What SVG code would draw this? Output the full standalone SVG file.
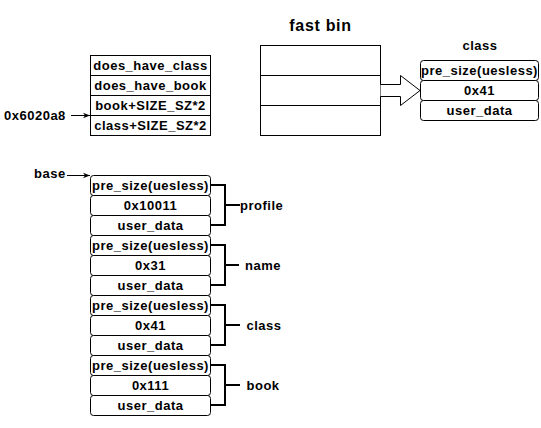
<svg xmlns="http://www.w3.org/2000/svg" width="541" height="428" viewBox="0 0 541 428">
<defs>
<style>
text{font-family:"Liberation Sans",Arial,sans-serif;font-weight:bold;font-size:13px;letter-spacing:0.5px;fill:#000}
.c{text-anchor:middle}
.box{fill:#fff;stroke:#000;stroke-width:1}
.row{fill:#fff;stroke:#000;stroke-width:1}
.ln{fill:none;stroke:#000;stroke-width:1}
.br{fill:none;stroke:#000;stroke-width:2}
.title{font-size:16px;letter-spacing:0.7px}
</style>
<marker id="ah" viewBox="0 0 10 10" refX="10" refY="5" markerWidth="7" markerHeight="7" orient="auto" markerUnits="userSpaceOnUse">
<path d="M0,1 L10,5 L0,9 L3,5 Z" fill="#000"/>
</marker>
</defs>
<rect width="541" height="428" fill="#fff"/>

<g id="pointer-table">
<rect class="box" x="90.5" y="55.5" width="120" height="80"/>
<line class="ln" x1="90.5" y1="75.5" x2="210.5" y2="75.5"/>
<line class="ln" x1="90.5" y1="95.5" x2="210.5" y2="95.5"/>
<line class="ln" x1="90.5" y1="115.5" x2="210.5" y2="115.5"/>
<text class="c" x="150.5" y="70">does_have_class</text>
<text class="c" x="150.5" y="90">does_have_book</text>
<text class="c" x="150.5" y="110">book+SIZE_SZ*2</text>
<text class="c" x="150.5" y="130">class+SIZE_SZ*2</text>
</g>

<g id="label-0x6020a8"><text x="4" y="120">0x6020a8</text></g>
<g id="label-base"><text x="34" y="178">base</text></g>

<g id="fastbin">
<text class="c title" x="320.5" y="30.5">fast bin</text>
<rect class="box" x="260.5" y="45.5" width="120" height="90"/>
<line class="ln" x1="260.5" y1="75.5" x2="380.5" y2="75.5"/>
<line class="ln" x1="260.5" y1="105.5" x2="380.5" y2="105.5"/>
</g>

<g id="class-chunk-top">
<text class="c" x="480" y="50">class</text>
<rect class="row" x="420.5" y="60.5" width="118" height="20" rx="3"/>
<rect class="row" x="420.5" y="80.5" width="118" height="20" rx="3"/>
<rect class="row" x="420.5" y="100.5" width="118" height="20" rx="3"/>
<text class="c" x="479.5" y="75">pre_size(uesless)</text>
<text class="c" x="479.5" y="95">0x41</text>
<text class="c" x="479.5" y="115">user_data</text>
</g>

<g id="profile-chunk">
<rect class="row" x="90.5" y="175.5" width="120" height="20" rx="3"/>
<rect class="row" x="90.5" y="195.5" width="120" height="20" rx="3"/>
<rect class="row" x="90.5" y="215.5" width="120" height="20" rx="3"/>
<text class="c" x="150.5" y="190">pre_size(uesless)</text>
<text class="c" x="150.5" y="210">0x10011</text>
<text class="c" x="150.5" y="230">user_data</text>
<text x="240" y="209.5">profile</text>
</g>

<g id="name-chunk">
<rect class="row" x="90.5" y="235.5" width="120" height="20" rx="3"/>
<rect class="row" x="90.5" y="255.5" width="120" height="20" rx="3"/>
<rect class="row" x="90.5" y="275.5" width="120" height="20" rx="3"/>
<text class="c" x="150.5" y="250">pre_size(uesless)</text>
<text class="c" x="150.5" y="270">0x31</text>
<text class="c" x="150.5" y="290">user_data</text>
<text x="245" y="269.5">name</text>
</g>

<g id="class-chunk">
<rect class="row" x="90.5" y="295.5" width="120" height="20" rx="3"/>
<rect class="row" x="90.5" y="315.5" width="120" height="20" rx="3"/>
<rect class="row" x="90.5" y="335.5" width="120" height="20" rx="3"/>
<text class="c" x="150.5" y="310">pre_size(uesless)</text>
<text class="c" x="150.5" y="330">0x41</text>
<text class="c" x="150.5" y="350">user_data</text>
<text x="246.5" y="329.5">class</text>
</g>

<g id="book-chunk">
<rect class="row" x="90.5" y="355.5" width="120" height="20" rx="3"/>
<rect class="row" x="90.5" y="375.5" width="120" height="20" rx="3"/>
<rect class="row" x="90.5" y="395.5" width="120" height="20" rx="3"/>
<text class="c" x="150.5" y="370">pre_size(uesless)</text>
<text class="c" x="150.5" y="390">0x111</text>
<text class="c" x="150.5" y="410">user_data</text>
<text x="246.5" y="389.5">book</text>
</g>

<g id="connectors">
<line class="ln" x1="71" y1="115.5" x2="90" y2="115.5" marker-end="url(#ah)"/>
<line class="ln" x1="67" y1="175.5" x2="90" y2="175.5" marker-end="url(#ah)"/>
<path d="M380.5,84.5 H400.5 V75.5 L420,90.5 L400.5,105.5 V96.5 H380.5" fill="#fff" stroke="#000" stroke-width="1"/>
<path class="br" d="M210.5,185 H225 V225 H210.5 M225,205 H240"/>
<path class="br" d="M210.5,245 H225 V285 H210.5 M225,265 H239"/>
<path class="br" d="M210.5,305 H225 V345 H210.5 M225,325 H240"/>
<path class="br" d="M210.5,365 H225 V405 H210.5 M225,385 H240"/>
</g>
</svg>
